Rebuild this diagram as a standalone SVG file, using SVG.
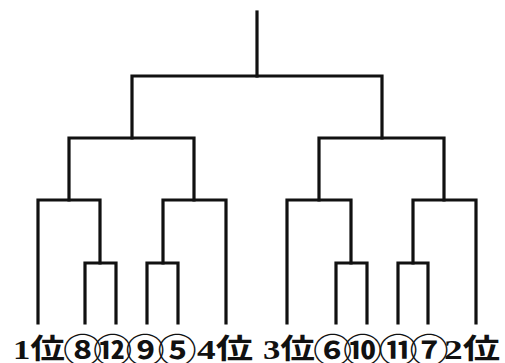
<svg xmlns="http://www.w3.org/2000/svg" width="505" height="363" viewBox="0 0 505 363">
<style>
.ln{fill:none;stroke:#111;stroke-width:3.2;stroke-linejoin:miter;stroke-linecap:square}
.lb{font-family:"Liberation Serif","Noto Sans CJK JP",serif;font-weight:bold;font-size:28px;fill:#111;text-anchor:middle}
.cn{font-family:"Noto Sans CJK JP",sans-serif;font-weight:bold;font-size:34px;fill:#111;text-anchor:middle}
</style>
<rect width="505" height="363" fill="#fff"/>
<g id="connectors" class="ln">
<path d="M257,12V76"/>
<path d="M132,138V76H382V138"/>
<path d="M69,200V138H194V200"/>
<path d="M319,200V138H444V200"/>
<path d="M38,323V200H100V263"/>
<path d="M85,323V263H116V323"/>
<path d="M163,263V200H226V323"/>
<path d="M147,323V263H178V323"/>
<path d="M287,323V200H351V263"/>
<path d="M336,323V263H367V323"/>
<path d="M413,263V200H476V323"/>
<path d="M398,323V263H428V323"/>
</g>
<g id="n1"><text class="lb" x="39" y="359" textLength="52" lengthAdjust="spacingAndGlyphs">1位</text></g>
<g id="n8"><text class="cn" transform="translate(82.5,363) scale(1.14,1)">⑧</text></g>
<g id="n12"><text class="cn" transform="translate(112.5,363) scale(1.14,1)">⑫</text></g>
<g id="n9"><text class="cn" transform="translate(145,363) scale(1.14,1)">⑨</text></g>
<g id="n5"><text class="cn" transform="translate(177,363) scale(1.14,1)">⑤</text></g>
<g id="n4"><text class="lb" x="225" y="359" textLength="56" lengthAdjust="spacingAndGlyphs">4位</text></g>
<g id="n3"><text class="lb" x="289" y="359" textLength="52" lengthAdjust="spacingAndGlyphs">3位</text></g>
<g id="n6"><text class="cn" transform="translate(332.5,363) scale(1.14,1)">⑥</text></g>
<g id="n10"><text class="cn" transform="translate(362.5,363) scale(1.14,1)">⑩</text></g>
<g id="n11"><text class="cn" transform="translate(398,363) scale(1.14,1)">⑪</text></g>
<g id="n7"><text class="cn" transform="translate(429,363) scale(1.14,1)">⑦</text></g>
<g id="n2"><text class="lb" x="472" y="359" textLength="56" lengthAdjust="spacingAndGlyphs">2位</text></g>
</svg>
